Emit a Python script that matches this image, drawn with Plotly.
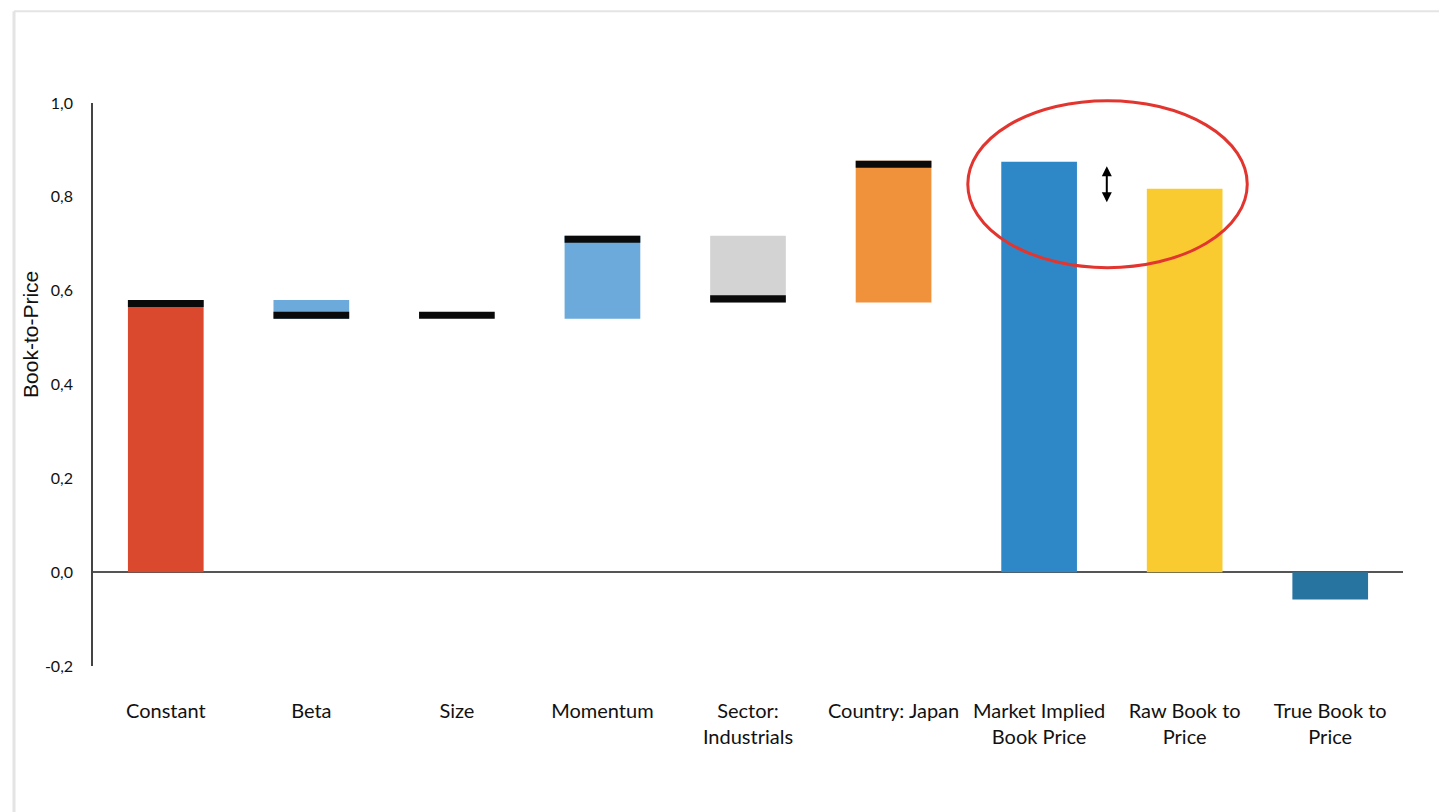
import plotly.graph_objects as go

categories = ["Constant", "Beta", "Size", "Momentum", "Sector:<br>Industrials",
              "Country: Japan", "Market Implied<br>Book Price", "Raw Book to<br>Price",
              "True Book to<br>Price"]
bar_start = [0.0, 0.58, 0.54, 0.54, 0.717, 0.575, 0.0, 0.0, 0.0]
bar_end = [0.58, 0.54, 0.54, 0.717, 0.575, 0.877, 0.875, 0.817, -0.058]
has_marker = [True, True, True, True, True, True, False, False, False]
colors = ["#DA482D", "#6BAADB", "#6BAADB", "#6BAADB", "#D3D3D3",
          "#F0913C", "#2E88C8", "#F9CB30", "#2874A0"]
y_ticks = [-0.2, 0.0, 0.2, 0.4, 0.6, 0.8, 1.0]
y_ticktext = ["-0,2", "0,0", "0,2", "0,4", "0,6", "0,8", "1,0"]

MARK_T = 0.015
BAR_W = 0.52
Y_MIN, Y_MAX = -0.2, 1.0

bases = [min(s, e) for s, e in zip(bar_start, bar_end)]
heights = [abs(e - s) for s, e in zip(bar_start, bar_end)]

mk_x, mk_base = [], []
for c, s, e, m in zip(categories, bar_start, bar_end, has_marker):
    if m:
        mk_x.append(c)
        mk_base.append(e - MARK_T if e > s else e)

fig = go.Figure()
fig.add_trace(go.Bar(x=categories, y=heights, base=bases, width=BAR_W,
                     marker=dict(color=colors, line=dict(width=0)),
                     hoverinfo="skip", showlegend=False))
fig.add_trace(go.Bar(x=mk_x, y=[MARK_T] * len(mk_x), base=mk_base, width=BAR_W,
                     marker=dict(color="#0A0A0A", line=dict(width=0)),
                     hoverinfo="skip", showlegend=False))


def ypaper(v):
    return (v - Y_MIN) / (Y_MAX - Y_MIN)


# highlight ellipse and double arrow
fig.add_shape(type="circle", xref="x", yref="paper", x0=5.51, x1=7.43,
              y0=ypaper(0.649), y1=ypaper(1.005),
              line=dict(color="#E2352F", width=3))
fig.add_annotation(x=6.465, y=0.865, ax=6.465, ay=0.785, xref="x", yref="y",
                   axref="x", ayref="y", text="", showarrow=True,
                   arrowhead=2, arrowside="end+start", arrowsize=1, arrowwidth=2,
                   arrowcolor="#000000")

# y-axis title
fig.add_annotation(text="Book-to-Price", xref="paper", yref="paper",
                   x=(31 - 93) / 1310, y=(665.5 - 335) / 562, showarrow=False,
                   xanchor="center", yanchor="middle",
                   textangle=-90, font=dict(family="Liberation Sans", size=21, color="#111111"))

# light frame
fig.add_shape(type="line", xref="paper", yref="paper", x0=(14 - 93) / 1310, x1=(14 - 93) / 1310,
              y0=(665.5 - 12) / 562, y1=-0.3, line=dict(color="#E4E4E4", width=3))
fig.add_shape(type="line", xref="paper", yref="paper", x0=(14 - 93) / 1310, x1=1.05,
              y0=(665.5 - 12) / 562, y1=(665.5 - 12) / 562, line=dict(color="#E4E4E4", width=2))

fig.update_layout(
    width=1439, height=812,
    margin=dict(l=93, r=36, t=103, b=146),
    paper_bgcolor="white", plot_bgcolor="white",
    barmode="overlay",
    font=dict(family="Lato", size=20, color="#111111"),
    xaxis=dict(type="category", range=[-0.5, 8.5], showgrid=False, showline=False,
               zeroline=False, ticks="", ticklabelstandoff=31,
               tickfont=dict(family="Lato", size=20, color="#111111")),
    yaxis=dict(range=[Y_MIN, Y_MAX], tickvals=y_ticks, ticktext=y_ticktext, showgrid=False,
               showline=True, linecolor="#444444", linewidth=1.5, ticks="",
               zeroline=True, zerolinecolor="#555555", zerolinewidth=1.5,
               ticklabelstandoff=15,
               tickfont=dict(family="Lato", size=16, color="#111111")),
)

fig.write_html("out.html")
